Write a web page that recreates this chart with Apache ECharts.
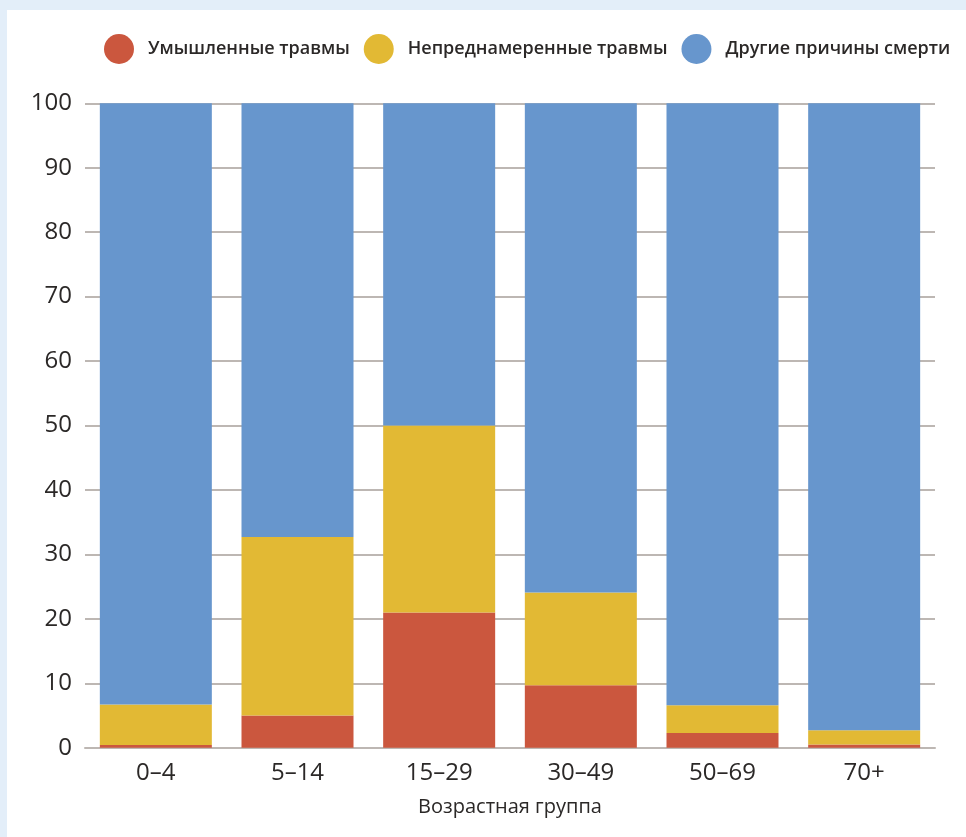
<!DOCTYPE html>
<html>
<head>
<meta charset="utf-8">
<script src="https://cdn.jsdelivr.net/npm/echarts@6/dist/echarts.min.js"></script>
<style>
  html, body { margin: 0; padding: 0; background: #e3eef9; width: 966px; height: 837px; overflow: hidden; }
  #chart { position: absolute; left: 7px; top: 10px; width: 959px; height: 827px; background: #ffffff; }
</style>
</head>
<body>
<div id="chart"></div>
<script>
// Age groups
const ageGroups = ['0–4', '5–14', '15–29', '30–49', '50–69', '70+'];
// Share of deaths by cause, %
const intentional = [0.4, 5.0, 21.0, 9.7, 2.3, 0.5];
const unintentional = [6.3, 27.7, 29.0, 14.4, 4.3, 2.2];
const otherCauses = [93.3, 67.3, 50.0, 75.9, 93.4, 97.3];
// Y axis ticks
const yTicks = { min: 0, max: 100, step: 10 };

const seriesNames = ['Умышленные травмы', 'Непреднамеренные травмы', 'Другие причины смерти'];
const colors = ['#cb573e', '#e2b934', '#6796cd'];
const FONT = '"Open Sans", "Noto Sans", sans-serif';
const TEXT = '#2b2827';
const GRID_LINE = '#bdb7b3';

const chart = echarts.init(document.getElementById('chart'), null, { renderer: 'canvas' });

function bar(name, data, color) {
  return {
    name: name,
    type: 'bar',
    stack: 'total',
    data: data,
    barWidth: 112,
    itemStyle: { color: color },
    emphasis: { disabled: true }
  };
}

chart.setOption({
  animation: false,
  backgroundColor: '#ffffff',
  color: colors,
  legend: {
    left: 92,
    top: 19,
    width: 900,
    icon: 'circle',
    itemWidth: 30,
    itemHeight: 30,
    itemGap: 14,
    textStyle: {
      fontFamily: FONT,
      fontSize: 18,
      fontWeight: 600,
      color: TEXT,
      padding: [0, 0, 0, 9]
    },
    data: seriesNames
  },
  grid: {
    left: 78,
    right: 31,
    top: 93.3,
    bottom: 89.3,
    containLabel: false
  },
  xAxis: {
    type: 'category',
    data: ageGroups,
    name: 'Возрастная группа',
    nameLocation: 'middle',
    nameGap: 50,
    nameTextStyle: { fontFamily: FONT, fontSize: 20, fontWeight: 500, color: TEXT, lineHeight: 20 },
    axisLine: { show: true, lineStyle: { color: GRID_LINE, width: 2 } },
    axisTick: { show: false },
    axisLabel: { fontFamily: FONT, fontSize: 24, fontWeight: 500, color: TEXT, margin: 13, lineHeight: 24 }
  },
  yAxis: {
    type: 'value',
    min: yTicks.min,
    max: yTicks.max,
    interval: yTicks.step,
    axisLine: { show: false },
    axisTick: { show: false },
    splitLine: { show: true, lineStyle: { color: GRID_LINE, width: 2 } },
    axisLabel: {
      fontFamily: FONT,
      fontSize: 24,
      fontWeight: 500,
      color: TEXT,
      margin: 13,
      padding: [0, 0, 16, 0]
    }
  },
  series: [
    bar(seriesNames[0], intentional, colors[0]),
    bar(seriesNames[1], unintentional, colors[1]),
    bar(seriesNames[2], otherCauses, colors[2])
  ]
});
</script>
</body>
</html>
